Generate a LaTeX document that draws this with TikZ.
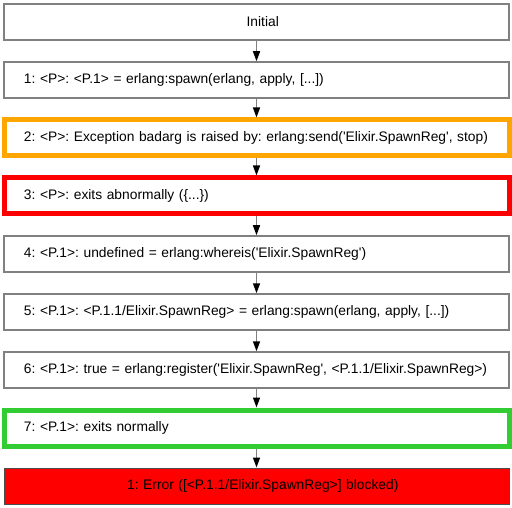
\documentclass[tikz,border=0pt]{standalone}
\usepackage{fontspec}
\setmainfont[Ligatures=TeXOff]{Liberation Sans}
\usetikzlibrary{arrows.meta,positioning}
\definecolor{warnorange}{HTML}{FFA500}
\definecolor{okgreen}{HTML}{32CD32}

\begin{document}
\begin{tikzpicture}[x=1pt,y=-1pt]
  \tikzstyle{step box}=[rectangle,draw=black!50,line width=1.5pt,fill=white,
    minimum width=505pt,minimum height=36pt,inner xsep=7.5pt,inner ysep=2pt,
    text width=490pt,align=left,font=\fontsize{13.8}{16}\selectfont,
    execute at begin node={\frenchspacing\hspace*{12.5pt}}]
  \tikzstyle{start box}=[step box,align=center,
    execute at begin node={\frenchspacing}]
  \tikzstyle{warn box}=[step box,draw=warnorange,line width=5pt]
  \tikzstyle{fail box}=[step box,draw=red,line width=5pt]
  \tikzstyle{ok box}=[step box,draw=okgreen,line width=5pt]
  \tikzstyle{error box}=[start box,draw=black!70,line width=1pt,fill=red]
  \tikzstyle{flow}=[draw=black!50,line width=1.5pt,
    -{Triangle[length=10pt,width=7pt,color=black]}]

  \useasboundingbox (0,0) rectangle (512,508);

  \node[start box] (s0) at (256.5,22)  {Initial};
  \node[step box]  (s1) at (256.5,80)  {1: <P>: <P.1> = erlang:spawn(erlang, apply, [...])};
  \node[warn box]  (s2) at (256.5,138) {2: <P>: Exception badarg is raised by: erlang:send('Elixir.SpawnReg', stop)};
  \node[fail box]  (s3) at (256.5,196) {3: <P>: exits abnormally (\{...\})};
  \node[step box]  (s4) at (256.5,254) {4: <P.1>: undefined = erlang:whereis('Elixir.SpawnReg')};
  \node[step box]  (s5) at (256.5,312) {5: <P.1>: <P.1.1/Elixir.SpawnReg> = erlang:spawn(erlang, apply, [...])};
  \node[step box]  (s6) at (256.5,370) {6: <P.1>: true = erlang:register('Elixir.SpawnReg', <P.1.1/Elixir.SpawnReg>)};
  \node[ok box]    (s7) at (256.5,428) {7: <P.1>: exits normally};
  \node[error box] (s8) at (256.5,486) {1: Error ([<P.1.1/Elixir.SpawnReg>] blocked)};

  \foreach \from/\to in {0/1,1/2,2/3,3/4,4/5,5/6,6/7,7/8}
    { \draw[flow] (s\from) -- (s\to); }
\end{tikzpicture}
\end{document}
